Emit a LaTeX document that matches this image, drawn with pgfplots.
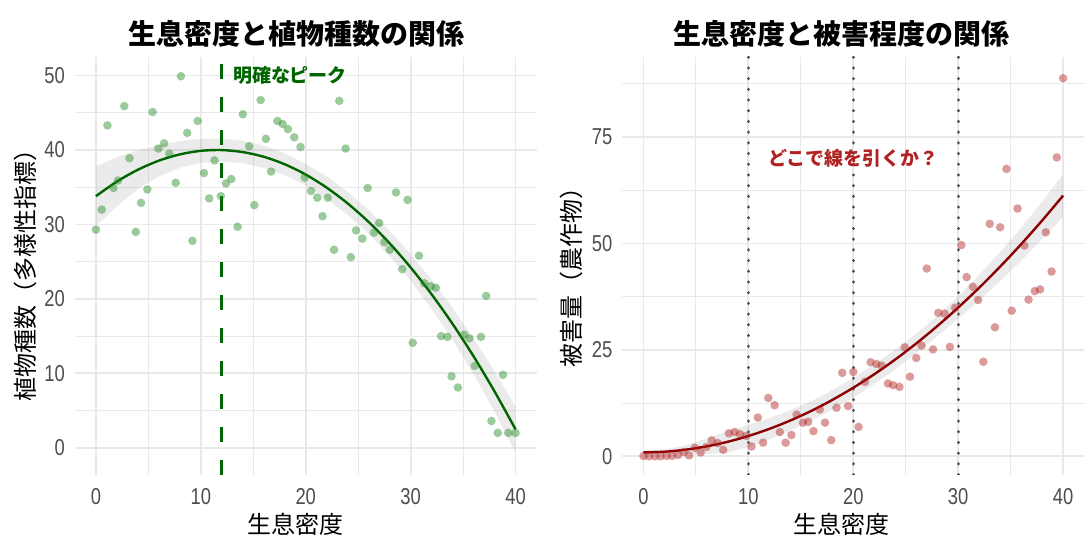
\documentclass[border=0pt]{standalone}
\usepackage{fontspec}
\setmainfont{Noto Sans CJK JP}
\newfontfamily\tickfont{Liberation Sans}[FakeStretch=0.8]
\usepackage{pgfplots}
\usepackage{pgfplotstable}
\pgfplotsset{compat=1.18}
\definecolor{gridc}{RGB}{233,233,233}
\definecolor{tickc}{RGB}{77,77,77}
\definecolor{ptgreen}{RGB}{34,139,34}
\definecolor{dgreen}{RGB}{0,100,0}
\definecolor{ptred}{RGB}{178,34,34}
\definecolor{dred}{RGB}{139,0,0}
\definecolor{fire}{RGB}{178,34,34}

\pgfplotstableread{
x y
0.0 29.3
0.55 32.0
1.1 43.3
1.67 34.9
2.1 35.9
2.7 45.9
3.2 38.9
3.8 29.0
4.3 32.9
4.9 34.7
5.4 45.1
5.95 40.2
6.5 40.9
7.0 39.5
7.6 35.6
8.1 49.9
8.7 42.3
9.2 27.8
9.7 43.9
10.3 36.9
10.8 33.5
11.3 38.6
11.9 33.8
12.4 35.5
12.9 36.1
13.5 29.7
14.0 44.8
14.6 40.5
15.1 32.6
15.7 46.7
16.2 41.5
16.7 37.1
17.3 43.9
17.8 43.5
18.3 42.8
18.9 41.7
19.5 40.4
19.9 36.3
20.5 34.5
21.1 33.6
21.6 31.1
22.1 33.6
22.7 26.6
23.2 46.6
23.8 40.2
24.3 25.6
24.8 29.2
25.4 28.1
25.9 34.9
26.5 28.9
27.0 30.2
27.5 27.6
28.0 26.6
28.6 34.3
29.2 24.0
29.7 33.3
30.2 14.1
30.8 25.8
31.3 22.1
31.9 21.7
32.4 21.5
32.9 15.0
33.5 14.9
33.9 9.6
34.5 8.1
35.1 15.2
35.6 14.7
36.1 11.0
36.7 14.9
37.2 20.4
37.7 3.6
38.3 2.0
38.8 9.8
39.3 2.0
40.0 2.0
}\ptsL

\pgfplotstableread{
x fit
0 33.80
2 35.76
4 37.35
6 38.57
8 39.41
10 39.89
12 39.99
14 39.72
16 39.09
18 38.08
20 36.70
22 34.94
24 32.82
26 30.33
28 27.46
30 24.22
32 20.61
34 16.63
36 12.28
38 7.56
40 2.47
}\fitL

% confidence band: lower edge left to right, then upper edge right to left
\pgfplotstableread{
x y
0 29.80
2 32.46
4 34.75
6 36.47
8 37.61
10 38.29
12 38.44
14 38.22
16 37.59
18 36.63
20 35.25
22 33.44
24 31.27
26 28.73
28 25.76
30 22.42
32 18.66
34 14.48
36 9.88
38 4.86
40 -0.63
40 5.57
38 10.26
36 14.68
34 18.78
32 22.56
30 26.02
28 29.16
26 31.93
24 34.37
22 36.44
20 38.15
18 39.53
16 40.59
14 41.22
12 41.54
10 41.49
8 41.21
6 40.67
4 39.95
2 39.06
0 37.80
}\bandL

\pgfplotstableread{
x y
0 0.07
0.52 0
1.09 0
1.63 0
2.2 0.1
2.73 0.1
3.3 0.3
3.84 1.0
4.35 0.2
4.9 2.0
5.45 0.9
6.0 2.2
6.5 3.75
7.07 3.1
7.6 1.5
8.14 5.4
8.68 5.7
9.2 5.2
9.8 4.8
10.3 2.3
10.9 9.1
11.4 3.2
11.9 13.7
12.5 12.0
13.0 5.7
13.55 3.2
14.1 5.0
14.6 9.8
15.2 7.9
15.7 8.1
16.2 5.9
16.8 11.0
17.3 7.9
17.9 3.8
18.4 11.4
18.95 19.6
19.5 11.8
20.0 19.8
20.5 6.9
21.1 17.5
21.65 22.1
22.2 21.7
22.7 21.3
23.3 17.1
23.8 16.7
24.4 16.3
24.9 25.6
25.4 18.7
26.0 23.1
26.5 26.0
27.0 44.1
27.6 25.1
28.1 33.7
28.7 33.5
29.2 25.7
29.7 34.9
30.3 49.6
30.8 42.1
31.4 39.8
31.9 36.7
32.4 22.2
33.0 54.6
33.5 30.3
34.0 53.8
34.6 67.5
35.1 34.2
35.65 58.2
36.3 49.5
36.7 36.8
37.3 38.8
37.8 39.2
38.35 52.6
38.9 43.4
39.4 70.2
40.0 88.8
}\ptsR

\pgfplotstableread{
x fit
0 0.90
2 1.07
4 1.55
6 2.32
8 3.39
10 4.77
12 6.44
14 8.41
16 10.67
18 13.24
20 16.11
22 19.28
24 22.74
26 26.51
28 30.57
30 34.94
32 39.60
34 44.56
36 49.82
38 55.38
40 61.24
}\fitR

\pgfplotstableread{
x y
0 0.40
2 0.47
4 0.55
6 0.52
8 0.89
10 2.17
12 3.94
14 6.01
16 8.37
18 10.94
20 13.81
22 16.98
24 20.44
26 24.21
28 28.17
30 32.34
32 36.60
34 41.16
36 45.92
38 50.98
40 56.24
40 66.24
38 59.78
36 53.72
34 47.96
32 42.60
30 37.54
28 32.97
26 28.81
24 25.04
22 21.58
20 18.41
18 15.54
16 12.97
14 10.81
12 8.94
10 7.37
8 5.89
6 4.12
4 2.55
2 1.67
0 1.40
}\bandR

\pgfplotsset{
  myaxis/.style={
    scale only axis,
    width=462bp, height=418bp,
    axis line style={draw=none},
    major tick length=0pt, minor tick length=0pt,
    xmajorgrids, ymajorgrids, xminorgrids, yminorgrids,
    major grid style={gridc, line width=1.8bp},
    minor grid style={gridc, line width=1bp},
    xmin=-2, xmax=42,
    xtick={0,10,20,30,40},
    minor xtick={5,15,25,35},
    /pgf/number format/assume math mode=true,
    ticklabel style={font=\tickfont\fontsize{23bp}{23bp}\selectfont, text=tickc, inner sep=0pt},
    xticklabel style={anchor=center, yshift=-22bp},
    yticklabel style={anchor=east, xshift=-10bp},
  },
  pts/.style={only marks, mark=*, mark size=4.3bp, color=#1,
    mark options={solid, fill=#1, fill opacity=0.45, draw opacity=0}},
  dotv/.style={color=black!70, line width=3.4bp, line cap=round, dash pattern=on 0.01bp off 10.7bp},
}

\begin{document}
\begin{tikzpicture}

% Left panel
\begin{axis}[myaxis, at={(75bp,61bp)}, anchor=south west,
  ymin=-3.6, ymax=52.5,
  ytick={0,10,20,30,40,50},
  minor ytick={5,15,25,35,45}]
\addplot[pts=ptgreen] table[x=x,y=y]{\ptsL};
\addplot[fill=black!40, fill opacity=0.2, draw=none] table[x=x,y=y]{\bandL} -- cycle;
\addplot[dgreen, line width=2.4bp, smooth] table[x=x,y=fit]{\fitL};
\addplot[dgreen, line width=3.2bp, dash pattern=on 15bp off 18bp] coordinates {(12,-3.6) (12,52.5)};
\node[anchor=west, inner sep=0pt, text=dgreen, font=\bfseries\fontsize{19bp}{19bp}\selectfont] at (axis cs:13.05,50) {明確なピーク};
\end{axis}

% Right panel
\begin{axis}[myaxis, at={(623bp,61bp)}, anchor=south west,
  ymin=-4.3, ymax=93.8,
  ytick={0,25,50,75},
  minor ytick={12.5,37.5,62.5,87.5}]
\addplot[dotv] coordinates {(10,-4.3) (10,93.8)};
\addplot[dotv] coordinates {(20,-4.3) (20,93.8)};
\addplot[dotv] coordinates {(30,-4.3) (30,93.8)};
\addplot[pts=ptred] table[x=x,y=y]{\ptsR};
\addplot[fill=black!40, fill opacity=0.2, draw=none] table[x=x,y=y]{\bandR} -- cycle;
\addplot[dred, line width=2.4bp, smooth] table[x=x,y=fit]{\fitR};
\node[anchor=center, inner sep=0pt, text=fire, font=\bfseries\fontsize{19bp}{19bp}\selectfont] at (axis cs:20,70) {どこで線を引くか？};
\end{axis}

% Titles and labels
\node[font=\bfseries\fontsize{28bp}{28bp}\selectfont] at (297bp,502bp) {生息密度と植物種数の関係};
\node[font=\bfseries\fontsize{28bp}{28bp}\selectfont] at (842bp,502bp) {生息密度と被害程度の関係};
\node[font=\fontsize{24bp}{24bp}\selectfont] at (296bp,11bp) {生息密度};
\node[font=\fontsize{24bp}{24bp}\selectfont] at (842bp,11bp) {生息密度};
\node[font=\fontsize{24bp}{24bp}\selectfont, rotate=90] at (25bp,266bp) {植物種数（多様性指標）};
\node[font=\fontsize{24bp}{24bp}\selectfont, rotate=90] at (572bp,264bp) {被害量（農作物）};
\path[use as bounding box] (0bp,0bp) rectangle (1085bp,536bp);
\end{tikzpicture}
\end{document}
